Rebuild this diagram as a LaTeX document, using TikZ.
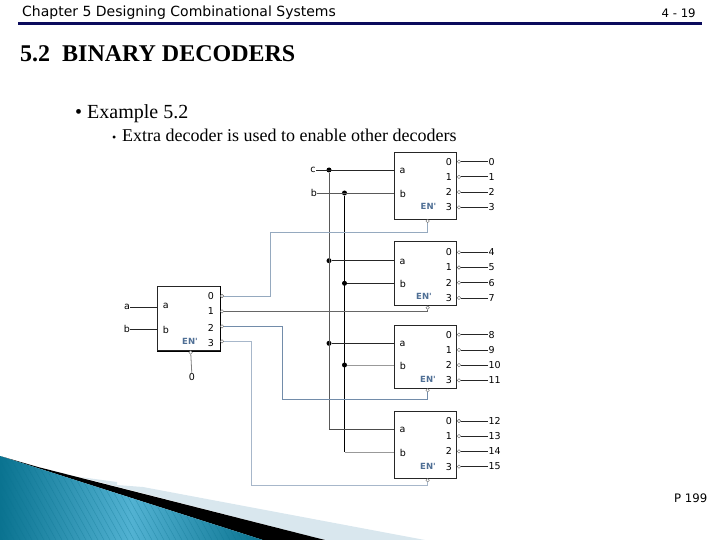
\documentclass[tikz,border=0pt]{standalone}
\usepackage{fontspec}
\setmainfont{Liberation Serif}
\newfontfamily\hdrfont{DejaVu Sans}
\definecolor{rulenavy}{HTML}{0B0B5C}
\definecolor{tealdark}{HTML}{0A7390}
\definecolor{teallight}{HTML}{52B2D2}
\definecolor{bandlight}{HTML}{D9E7EE}
\definecolor{enblue}{HTML}{4F6F95}
\tikzset{
    hdr/.style={inner sep=0pt, anchor=west, font=\hdrfont\fontsize{14}{16}\selectfont},
    small hdr/.style={inner sep=0pt, anchor=west, font=\hdrfont\fontsize{11.7}{14}\selectfont},
    block/.style={draw=black!85, line width=0.9pt, fill=white, minimum width=62.5pt},
    pinlabel/.style={inner sep=0pt, font=\hdrfont\fontsize{9.5}{11}\selectfont},
    enlabel/.style={inner sep=0pt, text=enblue, font=\hdrfont\bfseries\fontsize{8.5}{10}\selectfont},
    bubble/.style={circle, draw=black!60, fill=white, line width=0.4pt, inner sep=0pt, minimum size=3.5pt},
    jdot/.style={circle, fill=black, inner sep=0pt, minimum size=5pt},
    wire/.style={black!85, line width=0.8pt},
    enwire/.style={line width=0.8pt}
}
\begin{document}
\begin{tikzpicture}[x=1pt,y=-1pt]
    \useasboundingbox (0,0) rectangle (720,540);
    % corner wedge
    \fill[bandlight] (80,477) -- (117,482) -- (117,485) -- (143,487) -- (425,540) -- (325,540) -- cycle;
    \fill[black] (38,467) -- (325,540) -- (263,540) -- (0,456) -- cycle;
    \begin{scope}
        \clip (0,456) -- (263,540) -- (0,540) -- cycle;
        \shade[left color=tealdark, right color=tealdark, middle color=teallight] (0,456) rectangle (263,540);
        \foreach \s in {-60,-54,...,270}{
            \draw[tealdark, opacity=0.35, line width=0.5pt] (\s,450) -- (\s+50,540);
        }
    \end{scope}
    % header
    \node[hdr] (chapter) at (22,12.8) {Chapter 5 Designing Combinational Systems};
    \node[small hdr] (pagenum) at (661.5,13) {4 - 19};
    \draw[rulenavy, line width=3pt] (18,23.5) -- (702,23.5);
    \node[inner sep=0pt, anchor=west, font=\bfseries\fontsize{24}{26}\selectfont] (title) at (20,54) {5.2\ \ BINARY DECODERS};
    \node[inner sep=0pt, anchor=west, font=\fontsize{20}{22}\selectfont] (exa) at (75,113.5) {\textbullet\ Example 5.2};
    \node[inner sep=0pt, anchor=west, font=\fontsize{18}{20}\selectfont] (extra) at (112,135) {{\fontsize{12}{12}\selectfont\textbullet}\hspace{5.8pt}Extra decoder is used to enable other decoders};
    \node[small hdr] (book) at (674,498) {P 199};
    % the four decoders on the right
    \foreach \dec/\ctr/\high/\ya/\yb/\yo/\base/\ylab/\xlab in {0/185.5/67/170/193/161.7/0/206/428.5, 1/273.7/64/260.7/283.3/252.3/4/296.5/424, 2/357/62.5/343.3/365/334.7/8/379.5/428, 3/445/66.5/429.3/452.3/421/12/466/428}{
        \node[block, minimum height=\high pt] (D\dec) at (425.5,\ctr) {};
        \node[pinlabel] (D\dec la) at (402.5,\ya+1) {a};
        \node[pinlabel] (D\dec lb) at (403,\yb+1) {b};
        \node[enlabel] (D\dec len) at (\xlab,\ylab) {EN'};
        \coordinate (D\dec a) at (D\dec.west |- 0,\ya);
        \coordinate (D\dec b) at (D\dec.west |- 0,\yb);
        \node[bubble] (D\dec en) at (427.7,{\ctr+\high/2+2}) {};
        \foreach \i in {0,1,2,3}{
            \pgfmathtruncatemacro\num{\base+\i}
            \node[pinlabel] (D\dec n\i) at (449,{\yo+15.2*\i}) {\i};
            \node[bubble] (D\dec o\i) at (459,{\yo+15.2*\i}) {};
            \node[pinlabel, anchor=west, inner xsep=1pt] (out\num) at (487.5,{\yo+15.2*\i}) {\num};
            \draw[wire] (D\dec o\i) -- (out\num);
        }
    }
    % inputs of the bus
    \node[pinlabel] (inc) at (313,170) {c};
    \node[pinlabel] (inb) at (314,193) {b};
    \foreach \dec in {0,1,2}{
        \node[jdot] (jc\dec) at (329,0 |- D\dec a) {};
        \node[jdot] (jb\dec) at (344.5,0 |- D\dec b) {};
    }
    \coordinate (jc3) at (329,429.3);
    \coordinate (jb3) at (344.5,452.3);
    \draw[wire, gray!70!black] (jc0) -- (jc3);
    \draw[wire, black] (jb0) -- (jb3);
    \draw[wire] (inc) -- (D0a);
    \draw[wire, black!65] (inb) -- (D0b);
    \draw[wire] (jc1) -- (D1a);
    \draw[wire] (jb1) -- (D1b);
    \draw[wire] (jc2) -- (D2a);
    \draw[wire, black!40] (jb2) -- (D2b);
    \draw[wire, black!70] (jc3) -- (D3a);
    \draw[wire, black!40] (jb3) -- (D3b);
    % enable decoder
    \node[block, minimum height=64pt] (S) at (189,318.7) {};
    \draw[black, line width=1.3pt] (S.north east) -- (S.south east) -- (S.south west);
    \node[pinlabel] (Sla) at (165.7,306) {a};
    \node[pinlabel] (Slb) at (166,330) {b};
    \node[enlabel] (Slen) at (190,341) {EN'};
    \node[bubble] (Sen) at (190.7,352.5) {};
    \node[pinlabel] (zero) at (192,377) {0};
    \node[pinlabel] (ina) at (127,307) {a};
    \node[pinlabel] (inbb) at (127,329) {b};
    \draw[wire] (ina) -- (S.west |- ina.east);
    \draw[wire] (inbb) -- (S.west |- inbb.east);
    \draw[enwire, black!50] (Sen) -- (zero);
    \foreach \i/\yi/\yt in {0/296/296, 1/311.3/311, 2/326.3/328, 3/341.3/343}{
        \node[pinlabel] (Sn\i) at (211,\yt) {\i};
        \node[bubble] (So\i) at (222,\yi) {};
    }
    % enable lines
    \coordinate (c0) at (270,232.3);
    \coordinate (c2) at (282.3,399.3);
    \coordinate (c3) at (251.3,485.7);
    \draw[enwire, color=enblue!60] (So0) -| (c0) -| (D0en);
    \draw[enwire, color=black!60] (So1) -| (D1en);
    \draw[enwire, color=enblue!80] (So2) -| (c2) -| (D2en);
    \draw[enwire, color=enblue!50] (So3) -| (c3) -| (D3en);
\end{tikzpicture}
\end{document}
